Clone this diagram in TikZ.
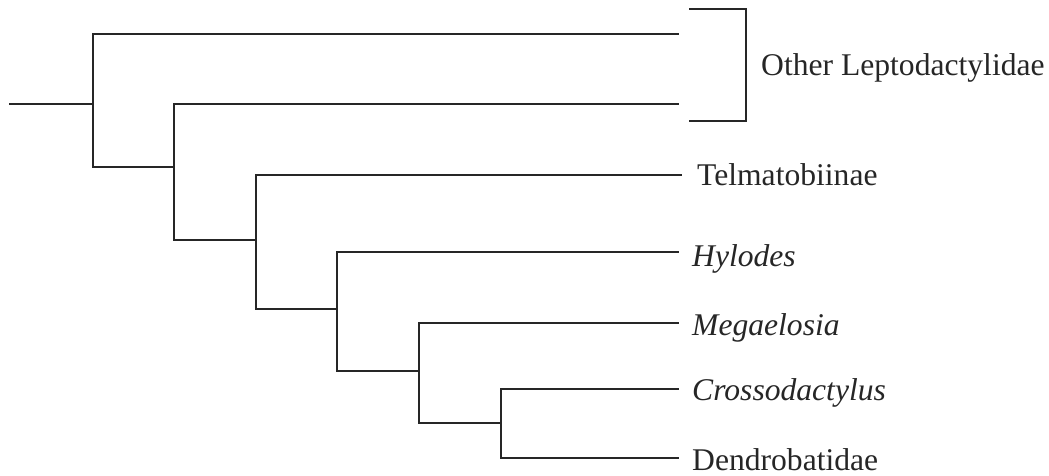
\documentclass[tikz,border=0pt]{standalone}
\usepackage{fontspec}
\setmainfont{Liberation Serif}
\begin{document}
\begin{tikzpicture}[x=1pt,y=-1pt,
  branch/.style={line width=1.6pt,color=black!85,line cap=rect},
  taxon/.style={anchor=base west,inner sep=0pt,font=\fontsize{31.6}{36}\selectfont,text=black!85}]
\useasboundingbox (0,0) rectangle (1049,475);
% internal node coordinates
\coordinate (root) at (10,104);
\coordinate (n1) at (93,104);
\coordinate (n1t) at (93,34);
\coordinate (n1b) at (93,167);
\coordinate (n2t) at (174,104);
\coordinate (n2m) at (174,167);
\coordinate (n2b) at (174,240);
\coordinate (n3t) at (256,175);
\coordinate (n3m) at (256,240);
\coordinate (n3b) at (256,309);
\coordinate (n4t) at (337,252);
\coordinate (n4m) at (337,309);
\coordinate (n4b) at (337,371);
\coordinate (n5t) at (419,323);
\coordinate (n5m) at (419,371);
\coordinate (n5b) at (419,423);
\coordinate (n6t) at (501,389);
\coordinate (n6m) at (501,423);
\coordinate (n6b) at (501,458);
% tips
\coordinate (t1) at (678,34);
\coordinate (t2) at (678,104);
\coordinate (t3) at (681,175);
\coordinate (t4) at (678,252);
\coordinate (t5) at (678,323);
\coordinate (t6) at (678,389);
\coordinate (t7) at (678,458);
% bracket
\coordinate (bt0) at (690,9);
\coordinate (bt1) at (746,9);
\coordinate (bb1) at (746,121);
\coordinate (bb0) at (690,121);
% labels
\node[taxon] (other) at (761,75) {Other Leptodactylidae};
\node[taxon] (telma) at (697,185) {Telmatobiinae};
\node[taxon] (hyl) at (692,266) {\itshape Hylodes};
\node[taxon] (meg) at (692,335) {\itshape Megaelosia};
\node[taxon] (cro) at (692,400) {\itshape Crossodactylus};
\node[taxon] (den) at (692,470) {Dendrobatidae};
% tree
\draw[branch] (root) -- (n1);
\draw[branch] (t1) -- (n1t) -- (n1b) -- (n2m);
\draw[branch] (t2) -- (n2t) -- (n2b) -- (n3m);
\draw[branch] (t3) -- (n3t) -- (n3b) -- (n4m);
\draw[branch] (t4) -- (n4t) -- (n4b) -- (n5m);
\draw[branch] (t5) -- (n5t) -- (n5b) -- (n6m);
\draw[branch] (t6) -- (n6t) -- (n6b) -- (t7);
\draw[branch] (bt0) -- (bt1) -- (bb1) -- (bb0);
\end{tikzpicture}
\end{document}
